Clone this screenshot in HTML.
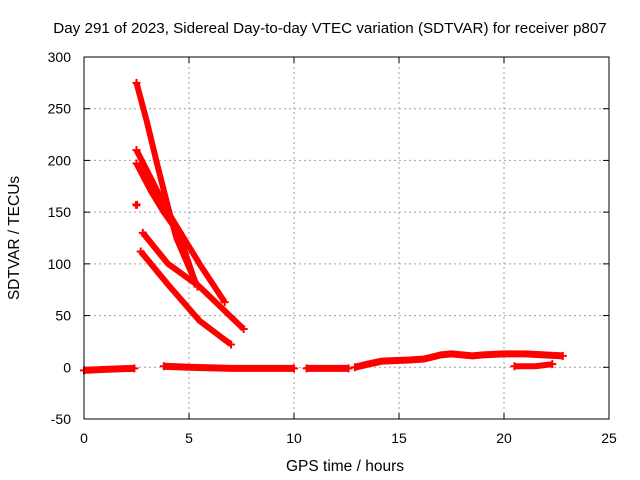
<!DOCTYPE html>
<html><head><meta charset="utf-8"><style>
body{margin:0;background:#fff;}
svg{display:block;font-family:"Liberation Sans",Arial,sans-serif;}
</style></head><body>
<svg id="chart" width="640" height="480">
<text x="330" y="33" text-anchor="middle" font-size="15.2">Day 291 of 2023, Sidereal Day-to-day VTEC variation (SDTVAR) for receiver p807</text>
<text x="345" y="471" text-anchor="middle" font-size="15.5">GPS time / hours</text>
<text transform="translate(19,238) rotate(-90)" text-anchor="middle" font-size="15.5">SDTVAR / TECUs</text>
<g id="grid"></g><g id="ticks"></g><g id="series"></g>
<rect x="84" y="57" width="525" height="362" fill="none" stroke="#000" stroke-width="1"/>
</svg>
<script>
const xTicks=[0,5,10,15,20,25];
const yTicks=[-50,0,50,100,150,200,250,300];
const track1X=[2.5,3.0,3.5,4.0,4.4,5.4];
const track1Y=[275,237,195,155,125,78];
const track2X=[2.5,3.0,4.0,5.5,6.7];
const track2Y=[210,190,150,100,63];
const track3X=[2.5,3.2,3.8,4.5,5.3];
const track3Y=[197,170,150,130,82];
const track4X=[2.8,4.0,5.5,7.6];
const track4Y=[130,100,78,37];
const track5X=[2.7,4.0,5.5,7.0];
const track5Y=[112,80,45,22];
const dotX=[2.5];
const dotY=[157];
const base1X=[0,1,2.4];
const base1Y=[-3,-2,-1];
const base2X=[3.8,5,7,10];
const base2Y=[1,0,-1,-1];
const base3X=[10.6,11,11.5,12.6];
const base3Y=[-1,-1,-1,-1];
const base4X=[12.9,13.5,14.2,15.5,16.2,17,17.5,18.5,19,20,21,22.8];
const base4Y=[0,3,6,7,8,12,13,11,12,13,13,11];
const base5X=[20.5,21.5,22.3];
const base5Y=[1,1,3];
const X=v=>84+v*21, Y=v=>57+(300-v)*362/350;
const ns="http://www.w3.org/2000/svg";
function mk(tag,attrs,parent){const e=document.createElementNS(ns,tag);for(const k in attrs)e.setAttribute(k,attrs[k]);parent.appendChild(e);return e;}
const grid=document.getElementById('grid'),ticks=document.getElementById('ticks'),ser=document.getElementById('series');
xTicks.forEach(t=>{
 if(t>0&&t<25){const g=mk('line',{x1:X(t),x2:X(t),y1:57,y2:419,stroke:'#a0a0a0','stroke-dasharray':'2,3'},grid);
 
 }
 mk('line',{x1:X(t),x2:X(t),y1:419,y2:413,stroke:'#000'},ticks);
 mk('line',{x1:X(t),x2:X(t),y1:57,y2:63,stroke:'#000'},ticks);
 const l=mk('text',{x:X(t),y:443,'text-anchor':'middle','font-size':'14'},ticks);l.textContent=t;
 
 
});
yTicks.forEach(t=>{
 if(t>-50&&t<300){const g=mk('line',{x1:84,x2:609,y1:Y(t),y2:Y(t),stroke:'#a0a0a0','stroke-dasharray':'2,3'},grid);
 
 }
 mk('line',{x1:84,x2:90,y1:Y(t),y2:Y(t),stroke:'#000'},ticks);
 mk('line',{x1:603,x2:609,y1:Y(t),y2:Y(t),stroke:'#000'},ticks);
 const l=mk('text',{x:71,y:Y(t)+5,'text-anchor':'end','font-size':'14'},ticks);l.textContent=t;
 
 
});
function track(xs,ys,name,w){
 const p=mk('polyline',{points:xs.map((x,i)=>X(x)+','+Y(ys[i])).join(' '),fill:'none',stroke:'#f00','stroke-width':w,'stroke-linejoin':'round'},ser);
 
 
 [0,xs.length-1].forEach(i=>{
  const cx=X(xs[i]),cy=Y(ys[i]);
  mk('path',{d:`M${cx-4},${cy}H${cx+4}M${cx},${cy-4}V${cy+4}`,stroke:'#f00','stroke-width':2},ser);
 });
}
track(track1X,track1Y,'track-1',6);
track(track2X,track2Y,'track-2',6);
track(track3X,track3Y,'track-3',6);
track(track4X,track4Y,'track-4',6);
track(track5X,track5Y,'track-5',6);
track(base1X,base1Y,'baseline-segment-1',7);
track(base2X,base2Y,'baseline-segment-2',7);
track(base3X,base3Y,'baseline-segment-3',7);
track(base4X,base4Y,'baseline-segment-4',7);
track(base5X,base5Y,'baseline-segment-5',6);
dotX.forEach((x,i)=>{const cx=X(x),cy=Y(dotY[i]);
 const d=mk('path',{d:`M${cx-4},${cy}H${cx+4}M${cx},${cy-4}V${cy+4}`,stroke:'#f00','stroke-width':3},ser);
 
 });
</script>
</body></html>
